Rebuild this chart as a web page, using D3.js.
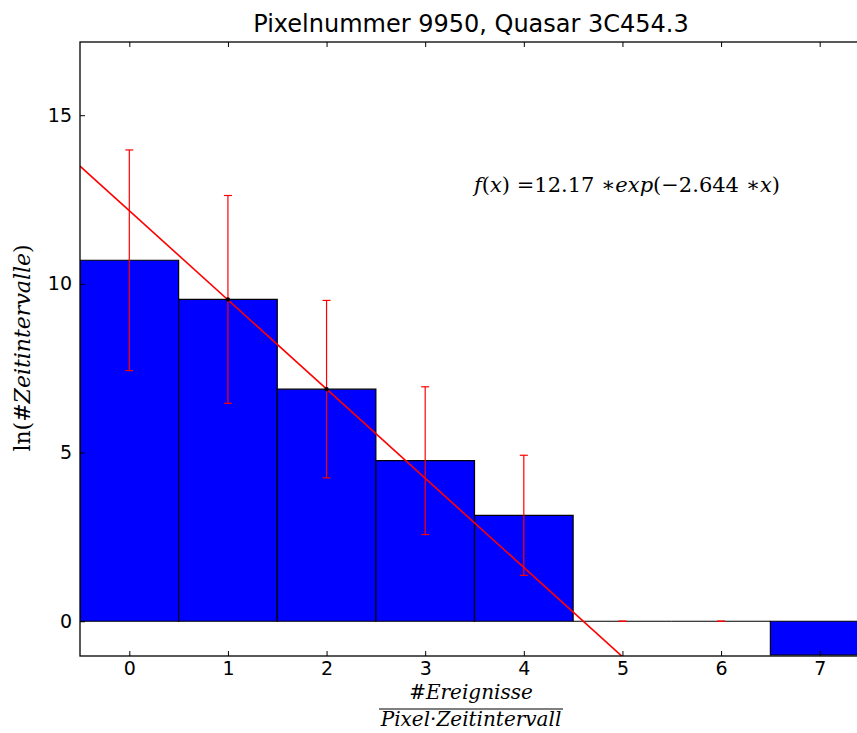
<!DOCTYPE html>
<html>
<head>
<meta charset="utf-8">
<script src="https://cdn.jsdelivr.net/npm/d3@7"></script>
<style>
  body { margin: 0; background: #fff; }
  svg { display: block; }
  .axis text { font-family: "DejaVu Sans", sans-serif; font-size: 19px; fill: #000; }
  .axis path { display: none; }
  .axis line { stroke: #000; stroke-width: 1; }
  .math { font-family: "DejaVu Serif", serif; }
</style>
</head>
<body>
<svg width="857" height="733"></svg>
<script>
// Data
const bins = [0, 1, 2, 3, 4, 5, 6, 7];
const logCounts = [10.70, 9.54, 6.88, 4.76, 3.14, 0, 0, -1.0];
const errors = [3.27, 3.08, 2.63, 2.19, 1.78, 0, 0, 0];
const markedBins = [1, 2];
const xTicks = [0, 1, 2, 3, 4, 5, 6, 7];
const yTicks = [0, 5, 10, 15];
const fitA = 12.17, fitB = 2.644;   // fit drawn as straight line A - B*x
const fitX = [-0.5, 7.5];

const svg = d3.select("svg"),
    margin = { top: 42, left: 80 },
    width = 789,
    height = 614;

const x = d3.scaleLinear().domain([-0.5, 7.5]).range([0, width]);
const y = d3.scaleLinear().domain([-1.03, 17.17]).range([height, 0]);

const g = svg.append("g").attr("transform", `translate(${margin.left},${margin.top})`);

g.append("clipPath").attr("id", "clip")
    .append("rect").attr("width", width).attr("height", height);

const plot = g.append("g").attr("clip-path", "url(#clip)");

// bars (drawn as paths so empty bins still show their edge)
plot.selectAll(".bar")
    .data(bins)
    .enter().append("path")
    .attr("class", "bar")
    .attr("d", (d, i) => {
        const x0 = x(d - 0.5), x1 = x(d + 0.5), y0 = y(0), y1 = y(logCounts[i]);
        return `M${x0},${y0}V${y1}H${x1}V${y0}Z`;
    })
    .attr("fill", "#0000ff")
    .attr("stroke", "#000")
    .attr("stroke-width", 1.2);

// error bars
const err = plot.selectAll(".err")
    .data(bins.slice(0, 7))
    .enter().append("g")
    .attr("class", "err")
    .attr("stroke", "#ff0000")
    .attr("stroke-width", 1.2);

err.append("line")
    .attr("x1", d => x(d)).attr("x2", d => x(d))
    .attr("y1", (d, i) => y(logCounts[i] + errors[i]))
    .attr("y2", (d, i) => y(logCounts[i] - errors[i]));
err.append("line")
    .attr("x1", d => x(d) - 4).attr("x2", d => x(d) + 4)
    .attr("y1", (d, i) => y(logCounts[i] + errors[i]))
    .attr("y2", (d, i) => y(logCounts[i] + errors[i]));
err.append("line")
    .attr("x1", d => x(d) - 4).attr("x2", d => x(d) + 4)
    .attr("y1", (d, i) => y(logCounts[i] - errors[i]))
    .attr("y2", (d, i) => y(logCounts[i] - errors[i]));

// fit line
const line = d3.line()
    .x(d => x(d))
    .y(d => y(fitA - fitB * d));

plot.append("path")
    .datum(fitX)
    .attr("d", line)
    .attr("fill", "none")
    .attr("stroke", "#ff0000")
    .attr("stroke-width", 1.6);

// data point markers
plot.selectAll(".pt")
    .data(markedBins)
    .enter().append("circle")
    .attr("cx", d => x(d))
    .attr("cy", d => y(logCounts[d]))
    .attr("r", 2.2)
    .attr("fill", "#000");

// axes, ticks pointing inward
g.append("g").attr("class", "axis")
    .attr("transform", `translate(0,${height})`)
    .call(d3.axisBottom(x).tickValues(xTicks).tickSize(-5).tickPadding(6).tickFormat(d3.format("d")));
g.append("g").attr("class", "axis")
    .call(d3.axisTop(x).tickValues(xTicks).tickSize(-5).tickFormat(""));
g.append("g").attr("class", "axis")
    .call(d3.axisLeft(y).tickValues(yTicks).tickSize(-5).tickPadding(8).tickFormat(d3.format("d")));
g.append("g").attr("class", "axis")
    .attr("transform", `translate(${width},0)`)
    .call(d3.axisRight(y).tickValues(yTicks).tickSize(-5).tickFormat(""));

// frame
g.append("rect")
    .attr("width", width).attr("height", height)
    .attr("fill", "none").attr("stroke", "#000").attr("stroke-width", 1.3);

// title
svg.append("text")
    .attr("x", 471).attr("y", 32)
    .attr("text-anchor", "middle")
    .style("font-family", "DejaVu Sans, sans-serif")
    .style("font-size", "24px")
    .text("Pixelnummer 9950, Quasar 3C454.3");

// formula
const f = svg.append("text").attr("class", "math")
    .attr("x", 474).attr("y", 192)
    .style("font-size", "21px");
f.append("tspan").style("font-style", "italic").text("f");
f.append("tspan").text("(");
f.append("tspan").style("font-style", "italic").text("x");
f.append("tspan").text(") =12.17 \u2217");
f.append("tspan").style("font-style", "italic").text("exp");
f.append("tspan").text("(\u22122.644 \u2217");
f.append("tspan").style("font-style", "italic").text("x");
f.append("tspan").text(")");

// y label
const yl = svg.append("text").attr("class", "math")
    .attr("transform", "translate(30,348) rotate(-90)")
    .attr("text-anchor", "middle")
    .style("font-size", "22px");
yl.append("tspan").text("ln(#");
yl.append("tspan").style("font-style", "italic").text("Zeitintervalle");
yl.append("tspan").text(")");

// x label as fraction
const cx = 471;
svg.append("text").attr("class", "math")
    .attr("x", cx).attr("y", 699)
    .attr("text-anchor", "middle")
    .style("font-size", "20px")
    .html('#<tspan font-style="italic">Ereignisse</tspan>');
svg.append("line")
    .attr("x1", cx - 92).attr("x2", cx + 92)
    .attr("y1", 709).attr("y2", 709)
    .attr("stroke", "#000").attr("stroke-width", 1.2);
svg.append("text").attr("class", "math")
    .attr("x", cx).attr("y", 726)
    .attr("text-anchor", "middle")
    .style("font-size", "20px")
    .html('<tspan font-style="italic">Pixel</tspan>\u00b7<tspan font-style="italic">Zeitintervall</tspan>');
</script>
</body>
</html>
